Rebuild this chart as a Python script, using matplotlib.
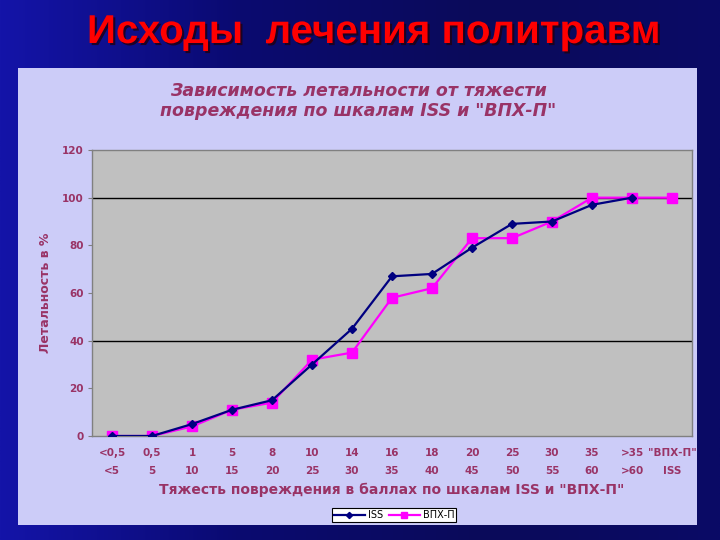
import numpy as np
import matplotlib
matplotlib.use("Agg")
import matplotlib.pyplot as plt
import matplotlib.patheffects as pe
from matplotlib.patches import Rectangle

# scale labels, upper row "ВПХ-П", lower row ISS
vph_labels = ['<0,5', '0,5', '1', '5', '8', '10', '14', '16', '18', '20',
              '25', '30', '35', '>35', '"ВПХ-П"']
iss_labels = ['<5', '5', '10', '15', '20', '25', '30', '35', '40', '45',
              '50', '55', '60', '>60', 'ISS']

# lethality in %
iss_values = [0, 0, 5, 11, 15, 30, 45, 67, 68, 79, 89, 90, 97, 100, np.nan]
vph_values = [0, 0, 4, 11, 14, 32, 35, 58, 62, 83, 83, 90, 100, 100, 100]

plum = '#993366'

fig = plt.figure(figsize=(7.2, 5.4), dpi=100)

# dark blue slide background
bg = fig.add_axes([0, 0, 1, 1], zorder=-10)
grad = np.linspace(0, 1, 256)
bg.imshow(np.vstack([grad, grad]), aspect='auto', extent=[0, 1, 0, 1],
          cmap=matplotlib.colors.LinearSegmentedColormap.from_list(
              'slide', ['#1414a8', '#0a0a70', '#0b0b5a', '#0a0a66']))
bg.set_xlim(0, 1)
bg.set_ylim(0, 1)
bg.axis('off')

# light chart panel
bg.add_patch(Rectangle((18 / 720, 1 - 525 / 540), (697 - 18) / 720, (525 - 68) / 540,
                       facecolor='#CCCCF8', edgecolor='none'))

fig.text(0.518, 1 - 32 / 540, 'Исходы  лечения политравм',
         ha='center', va='center', color='#FF0000', fontsize=29, fontweight='bold',
         family=['Liberation Sans Narrow', 'Liberation Sans', 'DejaVu Sans'],
         path_effects=[pe.withSimplePatchShadow(offset=(1.5, -1.5),
                                                shadow_rgbFace='#200010', alpha=0.8)])

fig.text(0.498, 1 - 101 / 540,
         'Зависимость летальности от тяжести\nповреждения по шкалам ISS и "ВПХ-П"',
         ha='center', va='center', color=plum, fontsize=12.5, fontweight='bold',
         fontstyle='italic', linespacing=1.15, family='DejaVu Sans')

ax = fig.add_axes([92 / 720, 1 - 436 / 540, 600 / 720, 286 / 540])
ax.set_facecolor('#C0C0C0')

x = np.arange(len(vph_labels))
ax.plot(x, iss_values, color='#000080', lw=1.6, marker='D', ms=4.5, label='ISS', zorder=3)
ax.plot(x, vph_values, color='#FF00FF', lw=1.6, marker='s', ms=7, label='ВПХ-П', zorder=2)

for yv in (40, 100):
    ax.axhline(yv, color='black', lw=1.0, zorder=1)

ax.set_xlim(-0.5, len(x) - 0.5)
ax.set_ylim(0, 120)
ax.set_yticks(range(0, 121, 20))
ax.set_xticks(x)
ax.set_xticklabels([f'{a}\n\n{b}' for a, b in zip(vph_labels, iss_labels)],
                   linespacing=0.82)
ax.tick_params(axis='x', length=0, pad=9)
ax.tick_params(axis='y', length=3, color='#808080', pad=3)
for lab in ax.get_xticklabels() + ax.get_yticklabels():
    lab.set_color(plum)
    lab.set_fontsize(7.5)
    lab.set_fontweight('bold')
for s in ax.spines.values():
    s.set_color('#808080')
    s.set_linewidth(1.0)

ax.set_ylabel('Летальность в %', color=plum, fontsize=9, fontweight='bold')
ax.yaxis.set_label_coords(-0.066, 0.5)
ax.set_xlabel('Тяжесть повреждения в баллах по шкалам ISS и "ВПХ-П"',
              color=plum, fontsize=10, fontweight='bold')
ax.xaxis.set_label_coords(0.5, -0.19)
ax.xaxis.label.set_va('center')

leg = ax.legend(loc='center', bbox_to_anchor=(394 / 720, 1 - 515 / 540),
                bbox_transform=fig.transFigure, ncol=2, fontsize=7,
                frameon=True, fancybox=False, edgecolor='black', framealpha=1,
                handlelength=3.2, handletextpad=0.3, columnspacing=0.6,
                borderpad=0.2, markerscale=0.7)
leg.get_frame().set_linewidth(0.8)

fig.savefig('out.png', dpi=100)
